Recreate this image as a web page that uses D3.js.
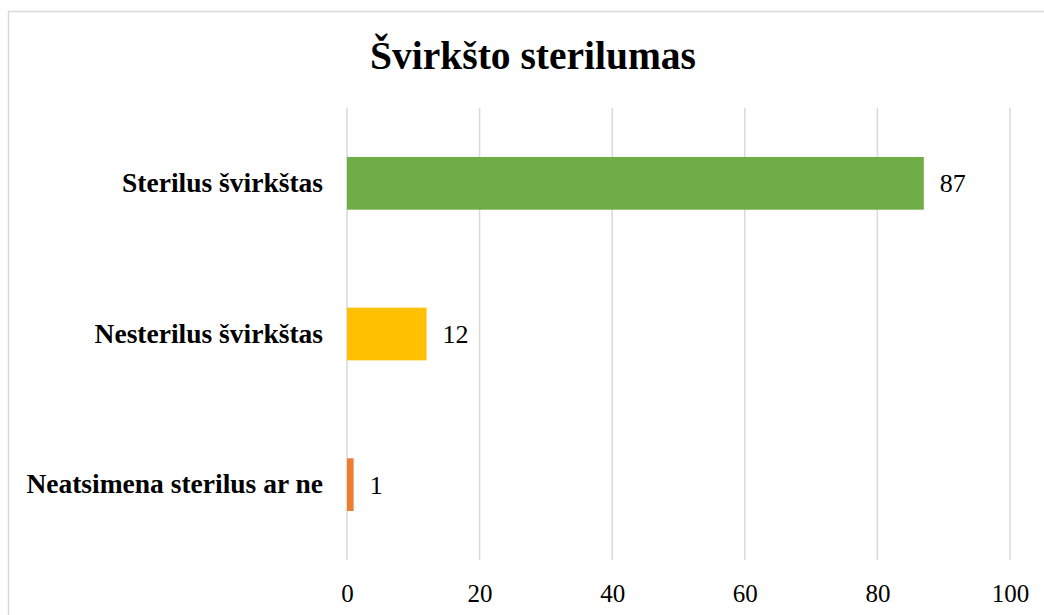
<!DOCTYPE html>
<html>
<head>
<meta charset="utf-8">
<script src="https://cdn.jsdelivr.net/npm/d3@7"></script>
<style>
  body { margin: 0; background: #fff; }
  svg text { font-family: "Liberation Serif", "Times New Roman", serif; }
</style>
</head>
<body>
<div id="chart-container"></div>
<script>
// chart data
var title = 'Švirkšto sterilumas';
var categories = ['Sterilus švirkštas', 'Nesterilus švirkštas', 'Neatsimena sterilus ar ne'];
var values = [87, 12, 1];
var barColors = ['#70AD47', '#FFC000', '#ED7D31'];
var xTicks = [0, 20, 40, 60, 80, 100];

function visualise() {
  const svgWidth = 1044;
  const svgHeight = 615;

  // plot area
  const margin = {top: 108, left: 347, bottom: 55, right: 34};
  const w = svgWidth - margin.left - margin.right;
  const h = svgHeight - margin.top - margin.bottom;

  const svg = d3.select('#chart-container')
      .append('svg')
      .attr('width', svgWidth)
      .attr('height', svgHeight);

  // outer chart border (runs off the right and bottom edges)
  svg.append('rect')
      .attr('x', 8.5)
      .attr('y', 11.5)
      .attr('width', 1060)
      .attr('height', 640)
      .attr('fill', 'none')
      .attr('stroke', '#d9d9d9')
      .attr('stroke-width', 1.5);

  svg.append('text')
      .attr('x', 533)
      .attr('y', 69)
      .attr('text-anchor', 'middle')
      .attr('font-size', 39.5)
      .attr('font-weight', 'bold')
      .attr('fill', '#000')
      .text(title);

  const chart = svg.append('g')
      .attr('transform', 'translate(' + margin.left + ',' + margin.top + ')');

  var x = d3.scaleLinear()
      .domain([0, 100])
      .range([0, w]);

  var y = d3.scaleBand()
      .domain(categories)
      .range([0, h])
      .paddingInner(0.65)
      .paddingOuter(0.325);

  // vertical gridlines
  chart.selectAll('.grid')
      .data(xTicks)
      .enter()
      .append('line')
      .attr('x1', function(d) { return x(d); })
      .attr('x2', function(d) { return x(d); })
      .attr('y1', 0)
      .attr('y2', h)
      .attr('stroke', '#d9d9d9')
      .attr('stroke-width', 1.5);

  // x axis labels only
  var xAxis = chart.append('g')
      .attr('transform', 'translate(0,' + h + ')')
      .call(d3.axisBottom(x).tickValues(xTicks).tickSize(0).tickPadding(24));
  xAxis.select('.domain').remove();
  xAxis.selectAll('text')
      .attr('font-size', 25)
      .attr('fill', '#000');

  // category labels
  var yAxis = chart.append('g')
      .call(d3.axisLeft(y).tickSize(0).tickPadding(24));
  yAxis.select('.domain').remove();
  yAxis.selectAll('text')
      .attr('font-size', 27.5)
      .attr('font-weight', 'bold')
      .attr('fill', '#000');

  chart.selectAll('.bar')
      .data(values)
      .enter()
      .append('rect')
      .attr('class', 'bar')
      .attr('x', x(0))
      .attr('y', function(d, i) { return y(categories[i]); })
      .attr('width', function(d) { return x(d) - x(0); })
      .attr('height', y.bandwidth())
      .attr('fill', function(d, i) { return barColors[i]; });

  chart.selectAll('.value')
      .data(values)
      .enter()
      .append('text')
      .attr('x', function(d) { return x(d) + 16; })
      .attr('y', function(d, i) { return y(categories[i]) + y.bandwidth() / 2; })
      .attr('dy', '0.35em')
      .attr('font-size', 26)
      .attr('fill', '#000')
      .text(function(d) { return d; });
}

document.addEventListener('DOMContentLoaded', visualise);
</script>
</body>
</html>
